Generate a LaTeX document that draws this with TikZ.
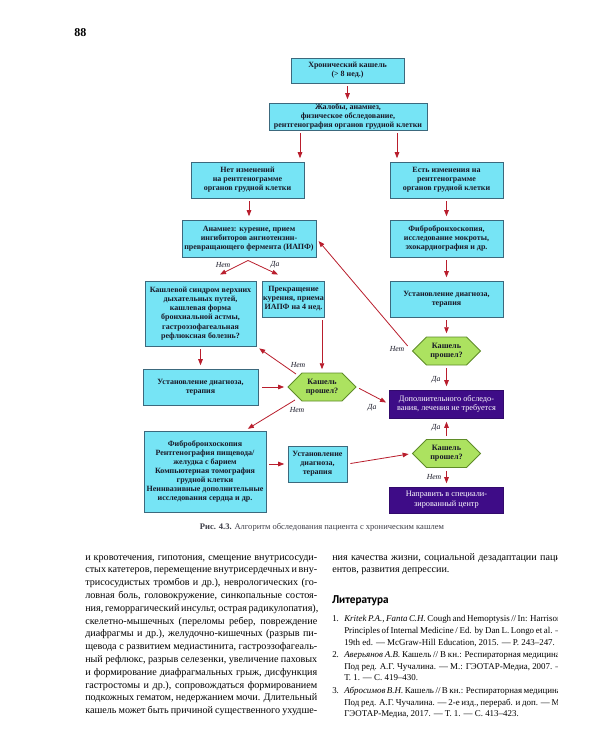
\documentclass[tikz,border=0pt]{standalone}
\usepackage{fontspec}
\setmainfont{Liberation Serif}
\newfontfamily\headfont{PT Sans}
\usetikzlibrary{shapes.symbols,arrows.meta,calc}
\definecolor{cfill}{RGB}{118,228,245}
\definecolor{cline}{RGB}{60,105,125}
\definecolor{pfill}{RGB}{62,12,135}
\definecolor{hfill}{RGB}{172,226,96}
\definecolor{hline}{RGB}{95,140,40}
\definecolor{arrc}{RGB}{185,30,45}
\definecolor{txt}{RGB}{25,25,40}
\definecolor{captc}{RGB}{60,60,70}
\begin{document}
\begin{tikzpicture}[x=0.75pt,y=-0.75pt,
  sz/.style 2 args={minimum width=#1*0.75pt,minimum height=#2*0.75pt},
  cbox/.style={draw=cline,fill=cfill,line width=0.7pt,align=center,inner sep=0pt,
    font=\fontsize{6}{6.8}\selectfont\bfseries,text=txt},
  pbox/.style={draw=pfill!80!black,fill=pfill,line width=0.7pt,align=center,inner sep=0pt,
    font=\fontsize{6.2}{7.3}\selectfont,text=white},
  hexa/.style={shape=signal,signal to=east and west,signal pointer angle=90,
    draw=hline,fill=hfill,line width=0.6pt,align=center,inner sep=0pt,
    font=\fontsize{6.1}{6.9}\selectfont\bfseries,text=txt,sz={68}{28}},
  arr/.style={draw=arrc,line width=0.6pt,-{Triangle[length=4.5pt,width=3.4pt]},
    shorten <=2.2pt,shorten >=2.5pt},
  lab/.style={font=\fontsize{5.8}{6}\selectfont\itshape,text=txt,inner sep=0pt},
  body/.style={anchor=mid west,inner sep=0pt,font=\fontsize{7.6}{8}\selectfont,text=black},
  refl/.style={anchor=mid west,inner sep=0pt,font=\fontsize{6.7}{7}\selectfont,text=black}
]
\useasboundingbox[fill=white] (0,0) rectangle (600,750);

% page number
\node[anchor=mid west,inner sep=0pt,font=\fontsize{9}{10}\selectfont\bfseries] (pg) at (74,33) {88};

% ---------- flowchart boxes ----------
\node[cbox,sz={113}{25}] (B1) at (347.5,70.5) {Хронический кашель\\(> 8 нед.)};
\node[cbox,sz={158}{27}] (B2) at (348,116.5) {Жалобы, анамнез,\\физическое обследование,\\рентгенография органов грудной клетки};
\node[cbox,sz={113}{36}] (B3) at (247.5,180) {Нет изменений\\на рентгенограмме\\органов грудной клетки};
\node[cbox,sz={113}{36}] (B4) at (446.5,180) {Есть изменения на\\рентгенограмме\\органов грудной клетки};
\node[cbox,sz={134}{37}] (B5) at (249,238.5) {Анамнез: курение, прием\\ингибиторов ангиотензин-\\превращающего фермента (ИАПФ)};
\node[cbox,sz={113}{37}] (B6) at (446.5,238.5) {Фибробронхоскопия,\\исследование мокроты,\\эхокардиография и др.};
\node[cbox,sz={111}{65}] (B7) at (200.5,313.5) {Кашлевой синдром верхних\\дыхательных путей,\\кашлевая форма\\бронхиальной астмы,\\гастроэзофагеальная\\рефлюксная болезнь?};
\node[cbox,sz={62}{36}] (B8) at (293.5,299) {Прекращение\\курения, приема\\ИАПФ на 4 нед.};
\node[cbox,sz={113}{36}] (B9) at (446.5,299) {Установление диагноза,\\терапия};
\node[hexa] (H1) at (446.5,351) {Кашель\\прошел?};
\node[cbox,sz={115}{36}] (B10) at (200.5,387) {Установление диагноза,\\терапия};
\node[hexa] (H2) at (322,387) {Кашель\\прошел?};
\node[pbox,sz={114}{28}] (B11) at (446.5,404) {Дополнительного обследо-\\вания, лечения не требуется};
\node[cbox,sz={122}{81}] (B12) at (205,471.5) {Фибробронхоскопия\\Рентгенография пищевода/\\желудка с барием\\Компьютерная томография\\грудной клетки\\Неинвазивные дополнительные\\исследования сердца и др.};
\node[cbox,sz={59}{36}] (B13) at (317.5,464) {Установление\\диагноза,\\терапия};
\node[hexa] (H3) at (446.5,453.5) {Кашель\\прошел?};
\node[pbox,sz={114}{26}] (B14) at (446.5,500) {Направить в специали-\\зированный центр};

% ---------- connectors ----------
\coordinate (x300) at (300,0);
\coordinate (x397) at (397,0);
\draw[arr] (B1.south) -- (B1.south |- B2.north);
\draw[arr] (B2.south -| x300) -- (B3.north -| x300);
\draw[arr] (B2.south -| x397) -- (B4.north -| x397);
\draw[arr] (B5.north |- B3.south) -- (B5.north);
\draw[arr] (B4.south) -- (B6.north);
\coordinate (peak) at ($(B5.south)+(-1,3)$);
\coordinate (tipL) at ($(B7.north)+(19.5,-6)$);
\coordinate (tipR) at ($(B8.north)+(-15.5,-6)$);
\draw[arr,shorten <=0pt,shorten >=0pt] (peak) -- (tipL);
\draw[arr,shorten <=0pt,shorten >=0pt] (peak) -- (tipR);
\draw[arr] (B6.south) -- (B9.north);
\draw[arr] (B9.south) -- (H1.north);
\draw[arr,shorten <=5pt] (H1.west) -- (B5.east);
\draw[arr] (H1.south) -- (B11.north);
\draw[arr] (B7.south -| B10.north) -- (B10.north);
\draw[arr] (B8.south -| H2.north) -- (H2.north);
\draw[arr,shorten <=0pt] ($(H2.center)+(-26,-13)$) -- (B7.south east);
\draw[arr,shorten <=3pt] (B10.east) -- (H2.west);
\draw[arr] (H2.east) -- (B11.west);
\draw[arr,shorten <=0pt] ($(H2.center)+(-27,13)$) -- ($(B12.north)+(40,0)$);
\draw[arr] (B12.east |- B13.west) -- (B13.west);
\draw[arr] (B13.east) -- (H3.west);
\draw[arr] (H3.north) -- (B11.south);
\draw[arr] (H3.south) -- (B14.north);

% ---------- connector labels ----------
\node[lab] (l1) at (223,265) {Нет};
\node[lab] (l2) at (275,265) {Да};
\node[lab] (l3) at (397,349) {Нет};
\node[lab] (l4) at (436,380) {Да};
\node[lab] (l5) at (298,365) {Нет};
\node[lab] (l6) at (372,408) {Да};
\node[lab] (l7) at (297,410) {Нет};
\node[lab] (l8) at (436,428) {Да};
\node[lab] (l9) at (434,477) {Нет};

% ---------- caption ----------
\node[inner sep=0pt,font=\fontsize{6.4}{7}\selectfont,text=captc] (cap) at (322,527)
  {\textbf{Рис. 4.3.} Алгоритм обследования пациента с хроническим кашлем};

% ---------- left column ----------
\node[body] (t1) at (85,557.0) {\makebox[174pt][s]{и кровотечения, гипотония, смещение внутрисосуди-}};
\node[body] (t2) at (85,569.8) {\makebox[174pt][s]{стых катетеров, перемещение внутрисердечных и вну-}};
\node[body] (t3) at (85,582.6) {\makebox[174pt][s]{трисосудистых тромбов и др.), неврологических (го-}};
\node[body] (t4) at (85,595.4) {\makebox[174pt][s]{ловная боль, головокружение, синкопальные состоя-}};
\node[body] (t5) at (85,608.2) {\makebox[174pt][s]{ния, геморрагический инсульт, острая радикулопатия),}};
\node[body] (t6) at (85,621.0) {\makebox[174pt][s]{скелетно-мышечных (переломы ребер, повреждение}};
\node[body] (t7) at (85,633.8) {\makebox[174pt][s]{диафрагмы и др.), желудочно-кишечных (разрыв пи-}};
\node[body] (t8) at (85,646.6) {\makebox[174pt][s]{щевода с развитием медиастинита, гастроэзофагеаль-}};
\node[body] (t9) at (85,659.4) {\makebox[174pt][s]{ный рефлюкс, разрыв селезенки, увеличение паховых}};
\node[body] (t10) at (85,672.2) {\makebox[174pt][s]{и формирование диафрагмальных грыж, дисфункция}};
\node[body] (t11) at (85,685.0) {\makebox[174pt][s]{гастростомы и др.), сопровождаться формированием}};
\node[body] (t12) at (85,697.8) {\makebox[174pt][s]{подкожных гематом, недержанием мочи. Длительный}};
\node[body] (t13) at (85,710.6) {\makebox[174pt][s]{кашель может быть причиной существенного ухудше-}};

% ---------- right column (cut at the scan edge) ----------
\begin{scope}
\clip (0,0) rectangle (557,750);
\node[body] (r1) at (332,557.0) {\makebox[174pt][s]{ния качества жизни, социальной дезадаптации паци-}};
\node[body] (r2) at (332,569.8) {ентов, развития депрессии.};
\node[anchor=mid west,inner sep=0pt,font=\headfont\fontsize{8.4}{9}\selectfont\bfseries] (lit) at (332,600) {Литература};
\node[refl] (n1) at (332,618) {1.};
\node[refl] (f1a) at (344,618) {\makebox[165pt][s]{\textit{Kritek P.A., Fanta C.H.} Cough and Hemoptysis // In: Harrison's}};
\node[refl] (f1b) at (344,630) {\makebox[165pt][s]{Principles of Internal Medicine / Ed. by Dan L. Longo et al. —}};
\node[refl] (f1c) at (344,642) {19th ed. — McGraw-Hill Education, 2015. — P. 243–247.};
\node[refl] (n2) at (332,654) {2.};
\node[refl] (f2a) at (344,654) {\makebox[165pt][s]{\textit{Аверьянов А.В.} Кашель // В кн.: Респираторная медицина /}};
\node[refl] (f2b) at (344,666) {\makebox[165pt][s]{Под ред. А.Г. Чучалина. — М.: ГЭОТАР-Медиа, 2007. —}};
\node[refl] (f2c) at (344,677) {Т. 1. — С. 419–430.};
\node[refl] (n3) at (332,690) {3.};
\node[refl] (f3a) at (344,690) {\makebox[165pt][s]{\textit{Абросимов В.Н.} Кашель // В кн.: Респираторная медицина /}};
\node[refl] (f3b) at (344,702) {\makebox[165pt][s]{Под ред. А.Г. Чучалина. — 2-е изд., перераб. и доп. — М.:}};
\node[refl] (f3c) at (344,713) {ГЭОТАР-Медиа, 2017. — Т. 1. — С. 413–423.};
\end{scope}
\end{tikzpicture}
\end{document}
